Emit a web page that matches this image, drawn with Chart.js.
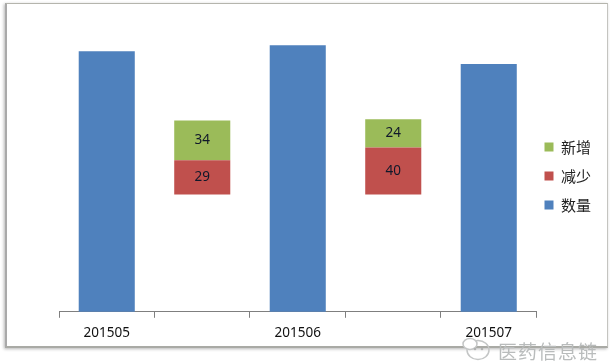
<!DOCTYPE html>
<html>
<head>
<meta charset="utf-8">
<script src="https://cdn.jsdelivr.net/npm/chart.js@4/dist/chart.umd.min.js"></script>
<style>
html, body { margin: 0; padding: 0; background: #fff; overflow: hidden; }
#frame {
    position: absolute; left: 5px; top: 3px; width: 603px; height: 345px;
    background: #fff;
    border-top: 1px solid #b5b5ad; border-right: 1px solid #c4c4c0;
    border-bottom: 2px solid #a9aaa5; border-left: 2px solid #a9a9a9;
    box-sizing: border-box;
    box-shadow: -1px 1px 3px #b5b5b5;
}
#wrap { position: absolute; left: 0; top: 0; width: 613px; height: 363px; }
#mark {
    position: absolute; left: 498px; top: 337px;
    font: 19px "Noto Sans CJK SC"; letter-spacing: 1px; color: #b9bcbc; white-space: nowrap;
}
#icon { position: absolute; left: 460px; top: 336px; }
</style>
</head>
<body>
<div id="frame"></div>
<div id="wrap"><canvas id="chart" width="613" height="363"></canvas></div>
<svg id="icon" width="34" height="26">
    <ellipse cx="18" cy="14" rx="11" ry="9.5" fill="none" stroke="#c4c6c6" stroke-width="1.5"/>
    <ellipse cx="10" cy="8" rx="7" ry="5.5" fill="#fff" stroke="#c4c6c6" stroke-width="1.5"/>
    <circle cx="15" cy="13" r="1.3" fill="#b0b2b2"/>
    <circle cx="22" cy="13" r="1.3" fill="#b0b2b2"/>
</svg>
<div id="mark">医药信息链</div>
<script>
const categories = ['201505', '', '201506', '', '201507'];
const amount = [1122, null, 1127, null, 1111];
const base = [null, 1000, null, 1000, null];
const reduced = [null, 29, null, 40, null];
const added = [null, 34, null, 24, null];

const cjk = '"Noto Sans CJK SC"';

//Draws the value in the middle of each visible bar
const barValues = {
    id: 'barValues',
    afterDatasetsDraw(chart) {
        const ctx = chart.ctx;
        ctx.save();
        ctx.font = '13.5px "Noto Sans"';
        ctx.fillStyle = '#10182a';
        ctx.textAlign = 'center';
        ctx.textBaseline = 'middle';
        chart.data.datasets.forEach((ds, i) => {
            if (ds.label === 'base') return;
            chart.getDatasetMeta(i).data.forEach((bar, j) => {
                if (ds.data[j] === null) return;
                const mid = bar.getCenterPoint();
                ctx.fillText(ds.data[j], mid.x, mid.y);
            });
        });
        ctx.restore();
    }
};

//Legend sits a bit above the middle of the plot
const legendShift = {
    id: 'legendShift',
    afterLayout(chart) {
        chart.legend.top -= 13;
        chart.legend.bottom -= 13;
        chart.legend.left -= 6;
        chart.legend.right -= 6;
    }
};

new Chart(document.getElementById('chart'), {
    type: 'bar',
    data: {
        labels: categories,
        datasets: [
            { label: '数量', data: amount, backgroundColor: '#4f81bd' },
            { label: 'base', data: base, backgroundColor: 'rgba(0,0,0,0)' },
            { label: '减少', data: reduced, backgroundColor: '#c0504d' },
            { label: '新增', data: added, backgroundColor: '#9bbb59' }
        ]
    },
    plugins: [barValues, legendShift],
    options: {
        responsive: false,
        animation: false,
        barPercentage: 1,
        categoryPercentage: 0.587,
        layout: { padding: { left: 59, top: 30, right: 6, bottom: 15 } },
        plugins: {
            tooltip: { enabled: false },
            legend: {
                position: 'right',
                reverse: true,
                labels: {
                    boxWidth: 9,
                    boxHeight: 9,
                    padding: 14,
                    color: '#222',
                    font: { family: cjk, size: 15 },
                    filter: item => item.text !== 'base'
                }
            }
        },
        scales: {
            x: {
                stacked: true,
                grid: { drawOnChartArea: false, color: '#7f7f7f', tickLength: 6 },
                border: { color: '#7f7f7f' },
                ticks: { color: '#111', font: { family: 'Noto Sans', size: 13.5 }, padding: 7, maxRotation: 0, autoSkip: false }
            },
            y: {
                stacked: true,
                display: false,
                min: 900,
                max: 1140
            }
        }
    }
});
</script>
</body>
</html>
